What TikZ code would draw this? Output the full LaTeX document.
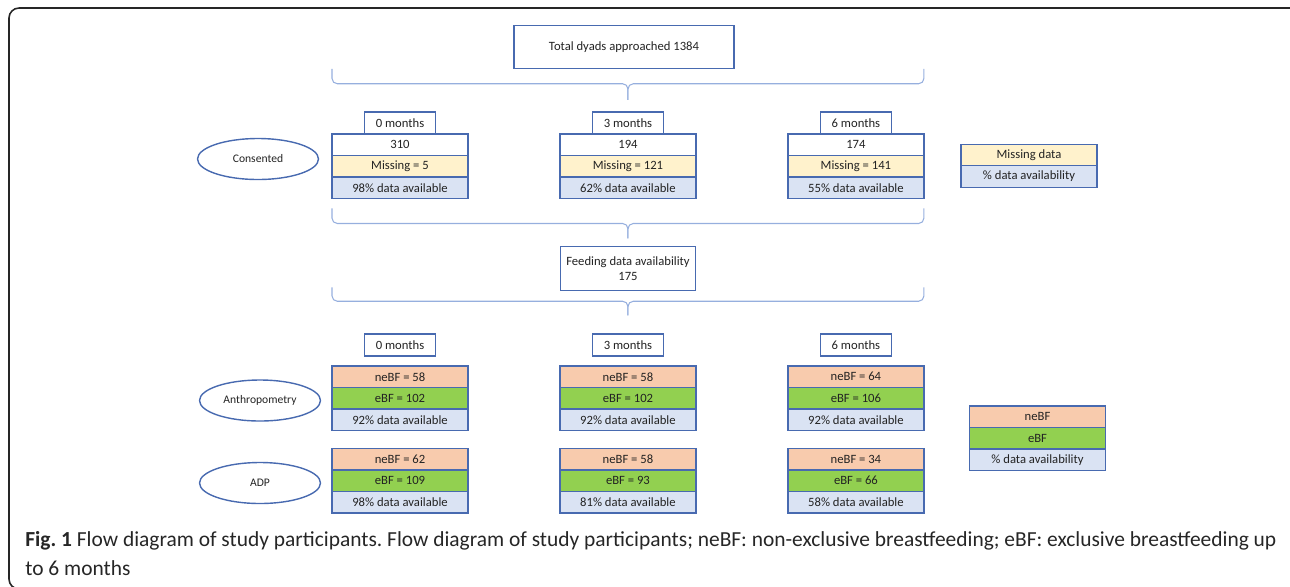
\documentclass[tikz,border=0pt]{standalone}
\usepackage{fontspec}
\setmainfont{Carlito}
\usepackage{tikz}
\usetikzlibrary{shapes.geometric, positioning, calc}
\definecolor{boxblue}{RGB}{72,106,176}
\definecolor{bracblue}{RGB}{150,175,222}
\definecolor{missyel}{RGB}{255,242,204}
\definecolor{availblue}{RGB}{218,227,243}
\definecolor{nebfpeach}{RGB}{248,203,173}
\definecolor{ebfgreen}{RGB}{146,208,80}
\definecolor{txtdark}{RGB}{35,35,35}
\tikzset{
  cell/.style={rectangle, draw=boxblue, fill=white,
    minimum width=2.72cm, minimum height=0.43cm, inner sep=0pt, outer sep=0pt,
    font=\fontsize{7.2}{8.8}\selectfont, text=txtdark, line width=0.8pt},
  misscell/.style={cell, fill=missyel},
  availcell/.style={cell, fill=availblue},
  nebfcell/.style={cell, fill=nebfpeach},
  ebfcell/.style={cell, fill=ebfgreen},
  hdrbox/.style={cell, minimum width=1.42cm, minimum height=0.44cm},
  infobox/.style={cell, align=center, minimum height=0.87cm},
  groupoval/.style={ellipse, draw=boxblue, minimum width=2.42cm,
    minimum height=0.82cm, inner sep=0pt, font=\fontsize{6.6}{8}\selectfont,
    text=txtdark, line width=0.8pt},
  brc/.style={draw=bracblue, line width=0.6pt, rounded corners=3pt},
  frame/.style={draw=black!85, line width=0.9pt, rounded corners=0.2cm}
}
\begin{document}
\begin{tikzpicture}[x=0.02cm, y=-0.02cm, node distance=0pt and 1.84cm]
  \useasboundingbox (0,0) rectangle (1290,586);
  \begin{scope}
    \clip (0,0) rectangle (1290,586);
    \draw[frame] (9,8) rectangle (1330,589);
  \end{scope}

  % Consent stage
  \node[infobox, minimum width=4.4cm] (top) at (624,47) {Total dyads approached 1384};
  \node[cell] (c0a) at (400,144.75) {310};
  \node[misscell, below=of c0a] (c0b) {Missing = 5};
  \node[availcell, below=of c0b] (c0c) {98\% data available};
  \node[hdrbox, above=of c0a] (h0) {0 months};
  \node[cell, right=of c0a] (c3a) {194};
  \node[misscell, below=of c3a] (c3b) {Missing = 121};
  \node[availcell, below=of c3b] (c3c) {62\% data available};
  \node[hdrbox, above=of c3a] (h3) {3 months};
  \node[cell, right=of c3a] (c6a) {174};
  \node[misscell, below=of c6a] (c6b) {Missing = 141};
  \node[availcell, below=of c6b] (c6c) {55\% data available};
  \node[hdrbox, above=of c6a] (h6) {6 months};
  \node[groupoval] (cons) at (258,159) {Consented};
  \node[misscell] (k1a) at (1029,155) {Missing data};
  \node[availcell, below=of k1a] (k1b) {\% data availability};

  \node[infobox, minimum width=2.7cm] (feed) at (628,268.5) {Feeding data availability\\175};

  % Feeding stage
  \node[nebfcell] (a0a) at (400,376.75) {neBF = 58};
  \node[ebfcell, below=of a0a] (a0b) {eBF = 102};
  \node[availcell, below=of a0b] (a0c) {92\% data available};
  \node[hdrbox, above=0.2cm of a0a] (m0) {0 months};
  \node[nebfcell, below=0.36cm of a0c] (d0a) {neBF = 62};
  \node[ebfcell, below=of d0a] (d0b) {eBF = 109};
  \node[availcell, below=of d0b] (d0c) {98\% data available};

  \node[nebfcell, right=of a0a] (a3a) {neBF = 58};
  \node[ebfcell, below=of a3a] (a3b) {eBF = 102};
  \node[availcell, below=of a3b] (a3c) {92\% data available};
  \node[hdrbox, above=0.2cm of a3a] (m3) {3 months};
  \node[nebfcell, below=0.36cm of a3c] (d3a) {neBF = 58};
  \node[ebfcell, below=of d3a] (d3b) {eBF = 93};
  \node[availcell, below=of d3b] (d3c) {81\% data available};

  \node[nebfcell, right=of a3a] (a6a) {neBF = 64};
  \node[ebfcell, below=of a6a] (a6b) {eBF = 106};
  \node[availcell, below=of a6b] (a6c) {92\% data available};
  \node[hdrbox, above=0.2cm of a6a] (m6) {6 months};
  \node[nebfcell, below=0.36cm of a6c] (d6a) {neBF = 34};
  \node[ebfcell, below=of d6a] (d6b) {eBF = 66};
  \node[availcell, below=of d6b] (d6c) {58\% data available};

  \node[groupoval] (anth) at (260,400.5) {Anthropometry};
  \node[groupoval] (adp) at (260,483) {ADP};
  \node[nebfcell] (k2a) at (1037.5,416.75) {neBF};
  \node[ebfcell, below=of k2a] (k2b) {eBF};
  \node[availcell, below=of k2b] (k2c) {\% data availability};

  % Braces
  \coordinate (b1l) at (c0a.west |- top.south);
  \coordinate (b1m) at (c3a |- top.south);
  \coordinate (b1r) at (c6a.east |- top.south);
  \draw[brc] (b1l) -- ($(b1l)+(0,15)$) -- ($(b1m)+(0,15)$) -- ($(b1m)+(0,31)$);
  \draw[brc] (b1r) -- ($(b1r)+(0,15)$) -- ($(b1m)+(0,15)$) -- ($(b1m)+(0,31)$);
  \coordinate (b2l) at ($(c0c.south west)+(0,10)$);
  \coordinate (b2m) at (c3a |- b2l);
  \coordinate (b2r) at (c6a.east |- b2l);
  \draw[brc] (b2l) -- ($(b2l)+(0,15)$) -- ($(b2m)+(0,15)$) -- ($(b2m)+(0,30)$);
  \draw[brc] (b2r) -- ($(b2r)+(0,15)$) -- ($(b2m)+(0,15)$) -- ($(b2m)+(0,30)$);
  \coordinate (b3l) at ($(c0a.west |- feed.south)+(0,-3)$);
  \coordinate (b3m) at (c3a |- b3l);
  \coordinate (b3r) at (c6a.east |- b3l);
  \draw[brc] (b3l) -- ($(b3l)+(0,14)$) -- ($(b3m)+(0,14)$) -- ($(b3m)+(0,28)$);
  \draw[brc] (b3r) -- ($(b3r)+(0,14)$) -- ($(b3m)+(0,14)$) -- ($(b3m)+(0,28)$);

  % Caption
  \node[anchor=north west, align=left, inner sep=0pt,
    font=\fontsize{12.2}{16.4}\selectfont\frenchspacing, text=black!85] (cap) at (25,531)
    {\textbf{Fig. 1} Flow diagram of study participants. Flow diagram of study participants; neBF: non-exclusive breastfeeding; eBF: exclusive breastfeeding up\\to 6 months};
\end{tikzpicture}
\end{document}
